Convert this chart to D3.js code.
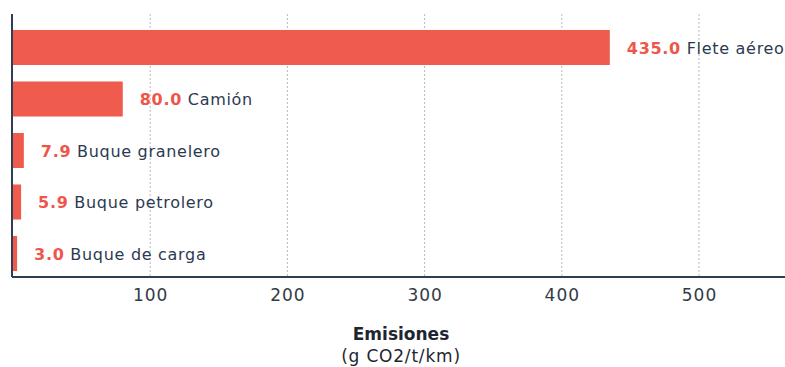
<!DOCTYPE html>
<html>
<head>
<meta charset="utf-8">
<script src="https://cdn.jsdelivr.net/npm/d3@7"></script>
<style>
  body { margin: 0; background: #fff; }
  text { font-family: "DejaVu Sans", sans-serif; }
</style>
</head>
<body>
<svg id="chart" width="785" height="367"></svg>
<script>
const categories = ["Flete aéreo", "Camión", "Buque granelero", "Buque petrolero", "Buque de carga"],
      values = [435.0, 80.0, 7.9, 5.9, 3.0],
      ticks = [100, 200, 300, 400, 500];

const BAR_COLOR = "#ef5b4c",
      VALUE_COLOR = "#f0554a",
      LABEL_COLOR = "#2c3a4f",
      AXIS_COLOR = "#2f3e52",
      LEFT = 12,
      TOP = 14,
      BOTTOM = 277;

let svg = d3.select("#chart");

let x = d3.scaleLinear()
  .domain([0, 500])
  .range([LEFT + 1, 699]);

let y = d3.scaleBand()
  .domain(categories)
  .range([21.75, 279.25])
  .paddingInner(0.32)
  .paddingOuter(0.16);

// dotted gridlines
svg.append("g")
  .selectAll("line")
  .data(ticks)
  .join("line")
  .attr("x1", d => x(d))
  .attr("x2", d => x(d))
  .attr("y1", TOP)
  .attr("y2", BOTTOM)
  .attr("stroke", "#b5b9bf")
  .attr("stroke-width", 1)
  .attr("stroke-dasharray", "2,2");

let rows = categories.map((c, i) => ({name: c, value: values[i]}));

svg.append("g")
  .selectAll("rect")
  .data(rows)
  .join("rect")
  .attr("x", x(0))
  .attr("y", d => y(d.name))
  .attr("width", d => x(d.value) - x(0))
  .attr("height", y.bandwidth())
  .attr("fill", BAR_COLOR);

let labels = svg.append("g")
  .selectAll("text")
  .data(rows)
  .join("text")
  .attr("x", d => x(d.value) + 17)
  .attr("y", d => y(d.name) + y.bandwidth() / 2)
  .attr("dy", "0.38em")
  .attr("font-size", 16)
  .attr("letter-spacing", 0.7);

labels.append("tspan")
  .attr("fill", VALUE_COLOR)
  .attr("font-weight", "bold")
  .text(d => d3.format(".1f")(d.value));

labels.append("tspan")
  .attr("fill", LABEL_COLOR)
  .text(d => " " + d.name);

// axes
let xAxis = d3.axisBottom(x).tickValues(ticks).tickSize(0).tickPadding(12);

let gx = svg.append("g")
  .attr("transform", "translate(0," + BOTTOM + ")")
  .call(xAxis);

gx.select(".domain").remove();
gx.selectAll("text")
  .attr("font-size", 17)
  .attr("letter-spacing", 1)
  .attr("font-family", "DejaVu Sans, sans-serif")
  .attr("fill", "#333a44");

svg.append("line")
  .attr("x1", LEFT)
  .attr("x2", 785)
  .attr("y1", BOTTOM)
  .attr("y2", BOTTOM)
  .attr("stroke", AXIS_COLOR)
  .attr("stroke-width", 2);

svg.append("line")
  .attr("x1", LEFT)
  .attr("x2", LEFT)
  .attr("y1", TOP)
  .attr("y2", BOTTOM)
  .attr("stroke", AXIS_COLOR)
  .attr("stroke-width", 2);

// axis title
svg.append("text")
  .attr("x", 401)
  .attr("y", 340)
  .attr("text-anchor", "middle")
  .attr("font-size", 17)
  .attr("font-weight", "bold")
  .attr("fill", "#1f2530")
  .text("Emisiones");

svg.append("text")
  .attr("x", 401)
  .attr("y", 362)
  .attr("text-anchor", "middle")
  .attr("font-size", 17)
  .attr("letter-spacing", 0.8)
  .attr("fill", "#1f2530")
  .text("(g CO2/t/km)");
</script>
</body>
</html>
